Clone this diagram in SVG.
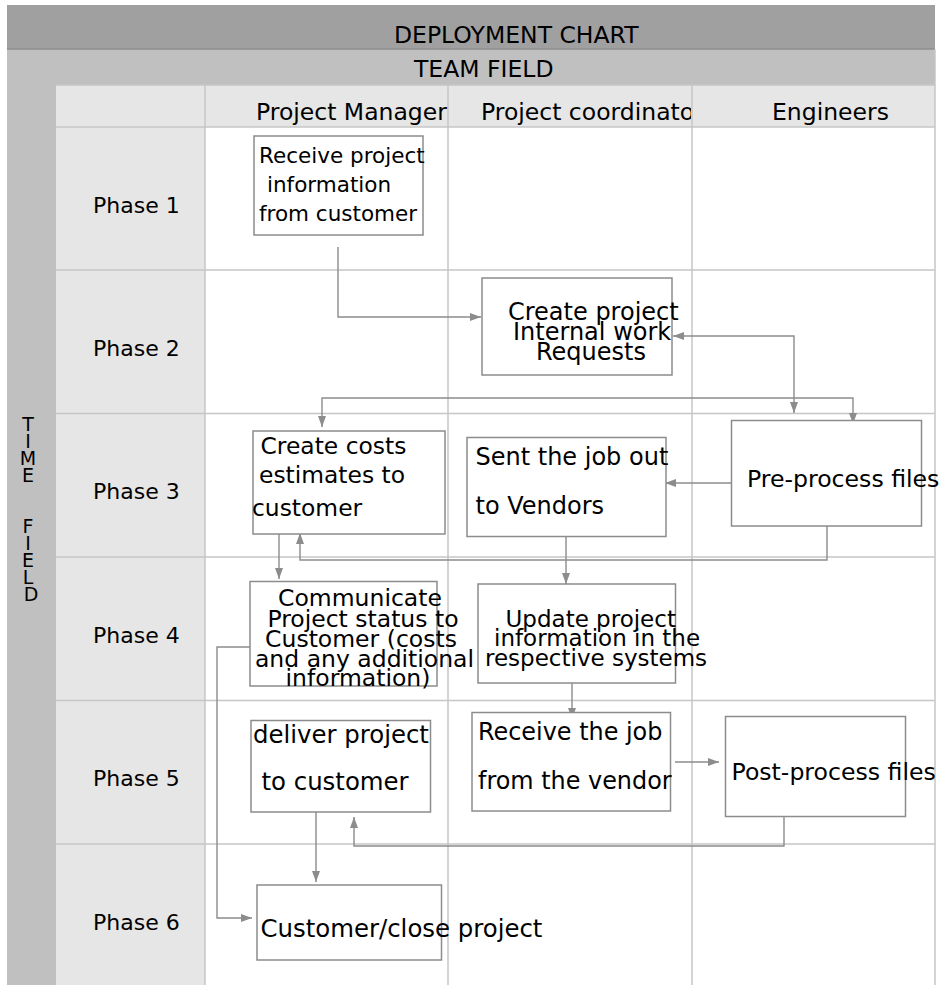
<svg xmlns="http://www.w3.org/2000/svg" width="946" height="985" viewBox="0 0 946 985">
  <style>
    text { font-family: "DejaVu Sans", Verdana, sans-serif; fill: #000; }
    .hdr { font-size: 23.5px; }
    .phase { font-size: 22px; }
    .box { fill: #fff; stroke: #8c8c8c; stroke-width: 1.5; }
    .grid { stroke: #c6c6c6; stroke-width: 1.5; fill: none; }
    .conn { stroke: #8c8c8c; stroke-width: 1.4; fill: none; }
    .n { font-size: 24px; }
  </style>
  <defs>
    <marker id="arrow" markerWidth="11" markerHeight="8" refX="11" refY="4" orient="auto-start-reverse" markerUnits="userSpaceOnUse">
      <path d="M0,0 L11,4 L0,8 z" fill="#8c8c8c"/>
    </marker>
    <clipPath id="coordCell">
      <rect x="449" y="85" width="242" height="42"/>
    </clipPath>
  </defs>

  <!-- page background -->
  <rect x="0" y="0" width="946" height="985" fill="#fff"/>

  <!-- bands and label columns -->
  <g id="frame">
    <rect x="7" y="5" width="928" height="44" fill="#a0a0a0"/>
    <rect x="7" y="49" width="928" height="36" fill="#c0c0c0"/>
    <rect x="7" y="49" width="49" height="936" fill="#c0c0c0"/>
    <rect x="56" y="85" width="879" height="42" fill="#e6e6e6"/>
    <rect x="56" y="127" width="149" height="858" fill="#e6e6e6"/>
    <line x1="7" y1="49" x2="935" y2="49" stroke="#8e8e8e" stroke-width="1.5"/>
  </g>

  <!-- grid -->
  <g id="grid" class="grid">
    <line x1="205" y1="85" x2="205" y2="985"/>
    <line x1="448" y1="85" x2="448" y2="985"/>
    <line x1="692" y1="85" x2="692" y2="985"/>
    <line x1="935" y1="49" x2="935" y2="985"/>
    <line x1="56" y1="85" x2="935" y2="85"/>
    <line x1="56" y1="127" x2="935" y2="127"/>
    <line x1="56" y1="270" x2="935" y2="270"/>
    <line x1="56" y1="413.5" x2="935" y2="413.5"/>
    <line x1="56" y1="557" x2="935" y2="557"/>
    <line x1="56" y1="700.5" x2="935" y2="700.5"/>
    <line x1="56" y1="844" x2="935" y2="844"/>
  </g>

  <!-- headings -->
  <g id="headings">
    <text class="hdr" x="394" y="43">DEPLOYMENT CHART</text>
    <text class="hdr" x="414" y="77">TEAM FIELD</text>
    <text class="hdr" x="256" y="120">Project Manager</text>
    <text class="hdr" x="481" y="120" clip-path="url(#coordCell)">Project coordinator</text>
    <text class="hdr" x="772" y="120">Engineers</text>
    <text font-size="19" text-anchor="middle">
      <tspan x="31" y="431">T</tspan>
      <tspan x="31" dy="17">I</tspan>
      <tspan x="31" dy="17">M</tspan>
      <tspan x="31" dy="17">E</tspan>
      <tspan x="31" dy="51">F</tspan>
      <tspan x="31" dy="17">I</tspan>
      <tspan x="31" dy="17">E</tspan>
      <tspan x="31" dy="17">L</tspan>
      <tspan x="31" dy="17">D</tspan>
    </text>
  </g>

  <!-- phase labels -->
  <g id="phases">
    <text class="phase" x="93" y="213">Phase 1</text>
    <text class="phase" x="93" y="356">Phase 2</text>
    <text class="phase" x="93" y="499">Phase 3</text>
    <text class="phase" x="93" y="643">Phase 4</text>
    <text class="phase" x="93" y="786">Phase 5</text>
    <text class="phase" x="93" y="930">Phase 6</text>
  </g>

  <!-- connectors -->
  <g id="connectors">
    <path class="conn" d="M338,247 V317 H481" marker-end="url(#arrow)"/>
    <path class="conn" d="M673,336 H794 V413" marker-start="url(#arrow)" marker-end="url(#arrow)"/>
    <path class="conn" d="M322,427 V398 H853 V424" marker-start="url(#arrow)" marker-end="url(#arrow)"/>
    <path class="conn" d="M731,483 H665" marker-end="url(#arrow)"/>
    <path class="conn" d="M279,534 V579" marker-end="url(#arrow)"/>
    <path class="conn" d="M827,526 V560 H300 V533" marker-end="url(#arrow)"/>
    <path class="conn" d="M566,537 V584" marker-end="url(#arrow)"/>
    <path class="conn" d="M251,647 H217 V918 H252" marker-end="url(#arrow)"/>
    <path class="conn" d="M572,683 V719" marker-end="url(#arrow)"/>
    <path class="conn" d="M675,762 H719" marker-end="url(#arrow)"/>
    <path class="conn" d="M784,817 V846 H354 V817" marker-end="url(#arrow)"/>
    <path class="conn" d="M316,812 V882" marker-end="url(#arrow)"/>
  </g>

  <!-- nodes -->
  <g id="receive-info">
    <rect class="box" x="254" y="136" width="169" height="99"/>
    <text font-size="21.5"><tspan x="259" y="163">Receive project</tspan><tspan x="267" y="192">information</tspan><tspan x="259" y="221">from customer</tspan></text>
  </g>

  <g id="create-request">
    <rect class="box" x="482" y="278" width="190" height="97"/>
    <text class="n"><tspan x="508" y="320">Create project</tspan><tspan x="513" y="340">Internal work</tspan><tspan x="536" y="360">Requests</tspan></text>
  </g>

  <g id="cost-estimate">
    <rect class="box" x="253" y="431" width="192" height="103"/>
    <text font-size="23.4"><tspan x="260.5" y="454">Create costs</tspan><tspan x="259" y="483">estimates to</tspan><tspan x="252" y="516">customer</tspan></text>
  </g>

  <g id="send-vendors">
    <rect class="box" x="467" y="437.5" width="199" height="99"/>
    <text class="n"><tspan x="475.5" y="465">Sent the job out</tspan><tspan x="475.5" y="514">to Vendors</tspan></text>
  </g>

  <g id="pre-process">
    <rect class="box" x="731.5" y="420.5" width="190" height="105.5"/>
    <text font-size="23.6" x="747" y="487">Pre-process files</text>
  </g>

  <g id="communicate-status">
    <rect class="box" x="250" y="581.5" width="187" height="104.5"/>
    <text font-size="23.5" text-anchor="middle"><tspan x="360" y="606">Communicate</tspan><tspan x="363" y="627">Project status to</tspan><tspan x="361" y="647">Customer (costs</tspan><tspan x="364.5" y="667">and any additional</tspan><tspan x="358" y="686">information)</tspan></text>
  </g>

  <g id="update-systems">
    <rect class="box" x="478" y="584" width="197.5" height="99"/>
    <text font-size="23"><tspan x="505.5" y="627">Update project</tspan><tspan x="494" y="646">information in the</tspan><tspan x="485" y="666">respective systems</tspan></text>
  </g>

  <g id="receive-job">
    <rect class="box" x="472" y="712.5" width="198.5" height="98.5"/>
    <text font-size="23.9"><tspan x="478" y="740">Receive the job</tspan><tspan x="478" y="789">from the vendor</tspan></text>
  </g>

  <g id="post-process">
    <rect class="box" x="725.5" y="716.5" width="180" height="100"/>
    <text font-size="23.6" x="731.5" y="780">Post-process files</text>
  </g>

  <g id="deliver-project">
    <rect class="box" x="251" y="720.5" width="179.5" height="91.5"/>
    <text font-size="24.4"><tspan x="253" y="743">deliver project</tspan><tspan x="261.5" y="790">to customer</tspan></text>
  </g>

  <g id="close-project">
    <rect class="box" x="257" y="885" width="184.5" height="75"/>
    <text font-size="24.4" x="260.5" y="937">Customer/close project</text>
  </g>
</svg>
